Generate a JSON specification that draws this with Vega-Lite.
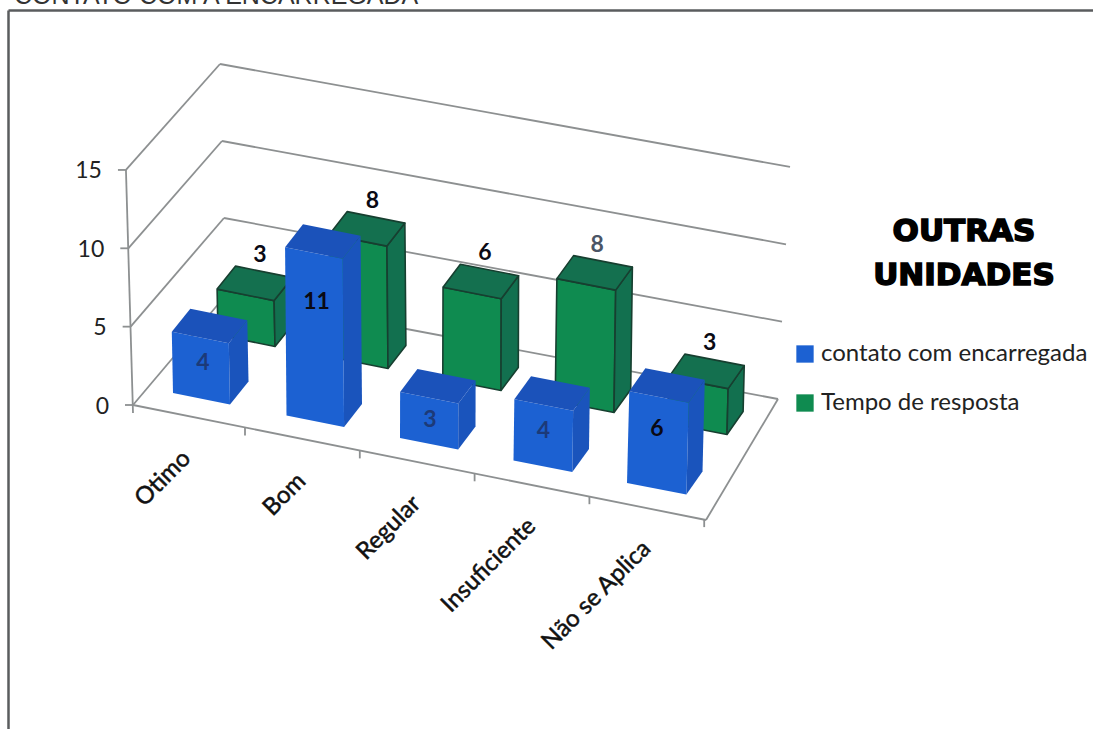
{
  "$schema": "https://vega.github.io/schema/vega-lite/v6.json",
  "width": 1085,
  "height": 719,
  "padding": {"left": 8, "top": 10, "right": 0, "bottom": 0},
  "autosize": "none",
  "background": "white",
  "config": {"view": {"stroke": null}},
  "datasets": {
    "answers": [
      {"category": "Otimo", "series": "contato com encarregada", "value": 4},
      {"category": "Bom", "series": "contato com encarregada", "value": 11},
      {"category": "Regular", "series": "contato com encarregada", "value": 3},
      {"category": "Insuficiente", "series": "contato com encarregada", "value": 4},
      {"category": "Não se Aplica", "series": "contato com encarregada", "value": 6},
      {"category": "Otimo", "series": "Tempo de resposta", "value": 3},
      {"category": "Bom", "series": "Tempo de resposta", "value": 8},
      {"category": "Regular", "series": "Tempo de resposta", "value": 6},
      {"category": "Insuficiente", "series": "Tempo de resposta", "value": 8},
      {"category": "Não se Aplica", "series": "Tempo de resposta", "value": 3}
    ],
    "levels": [{"level": 0}, {"level": 5}, {"level": 10}, {"level": 15}],
    "headings": [{"text": "OUTRAS", "row": 0}, {"text": "UNIDADES", "row": 1}]
  },
  "layer": [
    {
      "data": {"name": "levels"},
      "transform": [
        {"calculate": "133 - 0.47 * datum.level", "as": "frontX"},
        {"calculate": "405 - 15.67 * datum.level", "as": "frontY"},
        {"calculate": "226 - 0.4 * datum.level", "as": "backX"},
        {"calculate": "295 - 15.4 * datum.level", "as": "backY"},
        {"calculate": "778 + 0.8 * datum.level", "as": "rightX"},
        {"calculate": "399 - 15.47 * datum.level", "as": "rightY"},
        {"calculate": "706", "as": "cornerX"},
        {"calculate": "520", "as": "cornerY"},
        {"calculate": "datum.frontX - 8", "as": "tickX"},
        {"calculate": "datum.frontX - 24", "as": "labelX"},
        {"calculate": "datum.frontY + 1.5", "as": "labelY"}
      ],
      "layer": [
        {
          "mark": {"type": "rule", "color": "#8d9091", "strokeWidth": 1.8},
          "encoding": {
            "x": {"field": "frontX", "type": "quantitative", "title": null,
              "scale": {"domain": [8, 1093], "nice": false, "zero": false},
              "axis": {"orient": "top", "domainColor": "#5a5c5e", "domainWidth": 2.5, "ticks": false, "labels": false, "grid": false}},
            "y": {"field": "frontY", "type": "quantitative", "title": null,
              "scale": {"domain": [729, 10], "nice": false, "zero": false},
              "axis": {"orient": "left", "domainColor": "#5a5c5e", "domainWidth": 2.5, "ticks": false, "labels": false, "grid": false}},
            "x2": {"field": "backX"},
            "y2": {"field": "backY"}
          }
        },
        {
          "mark": {"type": "rule", "color": "#8d9091", "strokeWidth": 1.8},
          "encoding": {
            "x": {"field": "backX", "type": "quantitative"},
            "y": {"field": "backY", "type": "quantitative"},
            "x2": {"field": "rightX"},
            "y2": {"field": "rightY"}
          }
        },
        {
          "mark": {"type": "rule", "color": "#8d9091", "strokeWidth": 1.8},
          "encoding": {
            "x": {"field": "tickX", "type": "quantitative"},
            "y": {"field": "frontY", "type": "quantitative"},
            "x2": {"field": "frontX"}
          }
        },
        {
          "transform": [{"filter": "datum.level === 0"}],
          "mark": {"type": "rule", "color": "#8d9091", "strokeWidth": 1.8},
          "encoding": {
            "x": {"field": "frontX", "type": "quantitative"},
            "y": {"field": "frontY", "type": "quantitative"},
            "x2": {"field": "cornerX"},
            "y2": {"field": "cornerY"}
          }
        },
        {
          "transform": [{"filter": "datum.level === 0"}],
          "mark": {"type": "rule", "color": "#8d9091", "strokeWidth": 1.8},
          "encoding": {
            "x": {"field": "rightX", "type": "quantitative"},
            "y": {"field": "rightY", "type": "quantitative"},
            "x2": {"field": "cornerX"},
            "y2": {"field": "cornerY"}
          }
        },
        {
          "transform": [
            {"filter": "datum.level === 15"},
            {"calculate": "133", "as": "footX"},
            {"calculate": "413", "as": "footY"}
          ],
          "mark": {"type": "rule", "color": "#8d9091", "strokeWidth": 1.8},
          "encoding": {
            "x": {"field": "frontX", "type": "quantitative"},
            "y": {"field": "frontY", "type": "quantitative"},
            "x2": {"field": "footX"},
            "y2": {"field": "footY"}
          }
        },
        {
          "mark": {"type": "text", "align": "right", "baseline": "middle", "font": "Lato", "fontSize": 23, "color": "#222222"},
          "encoding": {
            "x": {"field": "labelX", "type": "quantitative"},
            "y": {"field": "labelY", "type": "quantitative"},
            "text": {"field": "level", "type": "quantitative"}
          }
        }
      ]
    },
    {
      "data": {"name": "answers"},
      "transform": [
        {"filter": "datum.series === 'Tempo de resposta'"},
        {"calculate": "indexof(['Otimo','Bom','Regular','Insuficiente','Não se Aplica'], datum.category)", "as": "slot"},
        {"calculate": "245 + 114.8 * datum.slot", "as": "tickX"},
        {"calculate": "427.5 + 22.9 * datum.slot", "as": "tickTop"},
        {"calculate": "datum.tickTop + 8", "as": "tickEnd"},
        {"calculate": "187 + 115 * datum.slot", "as": "nameX"},
        {"calculate": "455 + 22.5 * datum.slot", "as": "nameY"}
      ],
      "layer": [
        {
          "mark": {"type": "rule", "color": "#8d9091", "strokeWidth": 1.8},
          "encoding": {
            "x": {"field": "tickX", "type": "quantitative"},
            "y": {"field": "tickTop", "type": "quantitative"},
            "y2": {"field": "tickEnd"}
          }
        },
        {
          "mark": {"type": "text", "align": "right", "baseline": "middle", "angle": 315, "font": "Lato", "fontSize": 24, "color": "#111111", "stroke": "#111111", "strokeWidth": 0.5},
          "encoding": {
            "x": {"field": "nameX", "type": "quantitative"},
            "y": {"field": "nameY", "type": "quantitative"},
            "text": {"field": "category", "type": "nominal"}
          }
        }
      ]
    },
    {
      "data": {"name": "answers"},
      "transform": [
        {"calculate": "indexof(['Otimo','Bom','Regular','Insuficiente','Não se Aplica'], datum.category)", "as": "slot"},
        {"calculate": "datum.series === 'Tempo de resposta'", "as": "isRear"},
        {"calculate": "(datum.isRear ? 218 + 112.4 * datum.slot : 173 + 113.5 * datum.slot)", "as": "baseX"},
        {"calculate": "(datum.isRear ? 335 + 22 * datum.slot : 393 + 22.5 * datum.slot)", "as": "baseY"},
        {"calculate": "57 + 0.6 * datum.slot", "as": "wideX"},
        {"calculate": "18.5 - 0.6 * datum.slot", "as": "deepX"},
        {"calculate": "(-0.3 + 0.17 * datum.slot) * datum.value", "as": "leanX"},
        {"calculate": "15.3 * datum.value", "as": "tall"},
        {"calculate": "['front','front','front','front','front','side','side','side','side','side','top','top','top','top','top']", "as": "face"},
        {"calculate": "[0,1,2,3,4,0,1,2,3,4,0,1,2,3,4]", "as": "corner"},
        {"calculate": "[0,1,1,0,0,1,1,1,1,1,0,1,1,0,0]", "as": "across"},
        {"calculate": "[0,0,0,0,0,0,1,1,0,0,0,0,1,1,0]", "as": "back"},
        {"calculate": "[0,0,1,1,0,0,0,1,1,0,1,1,1,1,1]", "as": "up"},
        {"flatten": ["face", "corner", "across", "back", "up"]},
        {"calculate": "datum.baseX + datum.across * datum.wideX + datum.back * datum.deepX + datum.up * datum.leanX", "as": "x"},
        {"calculate": "datum.baseY + datum.across * 11.5 - datum.back * 23 - datum.up * datum.tall", "as": "y"},
        {"calculate": "datum.face === 'front' ? datum.series : datum.series + ' ' + datum.face", "as": "shade"}
      ],
      "layer": [
        {
          "transform": [{"filter": "datum.isRear"}],
          "mark": {"type": "line", "stroke": "#173f30", "strokeWidth": 1.6, "strokeJoin": "round"},
          "encoding": {
            "x": {"field": "x", "type": "quantitative"},
            "y": {"field": "y", "type": "quantitative"},
            "detail": [{"field": "category"}, {"field": "face"}],
            "order": {"field": "corner", "type": "quantitative"},
            "fill": {
              "field": "shade", "type": "nominal",
              "scale": {
                "domain": ["contato com encarregada", "Tempo de resposta", "contato com encarregada side", "contato com encarregada top", "Tempo de resposta side", "Tempo de resposta top"],
                "range": ["#1c61d2", "#0f8b50", "#1a54bc", "#1b52ba", "#12704f", "#14704f"]
              },
              "legend": {
                "values": ["contato com encarregada", "Tempo de resposta"],
                "orient": "none", "legendX": 785, "legendY": 332, "title": null,
                "symbolType": "square", "symbolSize": 300, "symbolStrokeWidth": 0, "rowPadding": 25,
                "labelFont": "Lato", "labelFontSize": 24, "labelColor": "#222222", "labelOffset": 4, "labelLimit": 400
              }
            }
          }
        },
        {
          "transform": [{"filter": "!datum.isRear"}],
          "mark": {"type": "line", "stroke": null, "strokeWidth": 0},
          "encoding": {
            "x": {"field": "x", "type": "quantitative"},
            "y": {"field": "y", "type": "quantitative"},
            "detail": [{"field": "category"}, {"field": "face"}],
            "order": {"field": "corner", "type": "quantitative"},
            "fill": {"field": "shade", "type": "nominal"}
          }
        }
      ]
    },
    {
      "data": {"name": "answers"},
      "transform": [
        {"calculate": "indexof(['Otimo','Bom','Regular','Insuficiente','Não se Aplica'], datum.category)", "as": "slot"},
        {"calculate": "datum.series === 'Tempo de resposta'", "as": "isRear"},
        {"calculate": "datum.isRear ? 218 + 112.4 * datum.slot + 42 : 173 + 113.5 * datum.slot + 30", "as": "labelX"},
        {"calculate": "datum.isRear ? 335 + 22 * datum.slot - 15.3 * datum.value - 7 - 27 : 393 + 22.5 * datum.slot + 6 + 12 - 12 * datum.value", "as": "labelY"}
      ],
      "mark": {"type": "text", "align": "center", "baseline": "middle", "font": "Lato", "fontWeight": "bold", "fontSize": 23},
      "encoding": {
        "x": {"field": "labelX", "type": "quantitative"},
        "y": {"field": "labelY", "type": "quantitative"},
        "text": {"field": "value", "type": "quantitative"},
        "color": {
          "condition": [
            {"test": "(!datum.isRear && datum.value <= 4)", "value": "#1c3a78"},
            {"test": "(datum.isRear && datum.category === 'Insuficiente')", "value": "#4b5566"}
          ],
          "value": "#0a0a14"
        }
      }
    },
    {
      "data": {"name": "headings"},
      "transform": [
        {"calculate": "964", "as": "midX"},
        {"calculate": "232 + 44 * datum.row", "as": "midY"}
      ],
      "mark": {"type": "text", "align": "center", "baseline": "middle", "font": "DejaVu Sans", "fontWeight": "bold", "fontSize": 31, "color": "#000000", "stroke": "#000000", "strokeWidth": 1.6},
      "encoding": {
        "x": {"field": "midX", "type": "quantitative"},
        "y": {"field": "midY", "type": "quantitative"},
        "text": {"field": "text", "type": "nominal"}
      }
    },
    {
      "data": {"values": [{"text": "CONTATO COM A ENCARREGADA"}]},
      "transform": [
        {"calculate": "14", "as": "startX"},
        {"calculate": "4", "as": "lineY"}
      ],
      "mark": {"type": "text", "align": "left", "baseline": "alphabetic", "font": "Liberation Sans", "fontSize": 25, "color": "#333333"},
      "encoding": {
        "x": {"field": "startX", "type": "quantitative"},
        "y": {"field": "lineY", "type": "quantitative"},
        "text": {"field": "text", "type": "nominal"}
      }
    }
  ]
}
